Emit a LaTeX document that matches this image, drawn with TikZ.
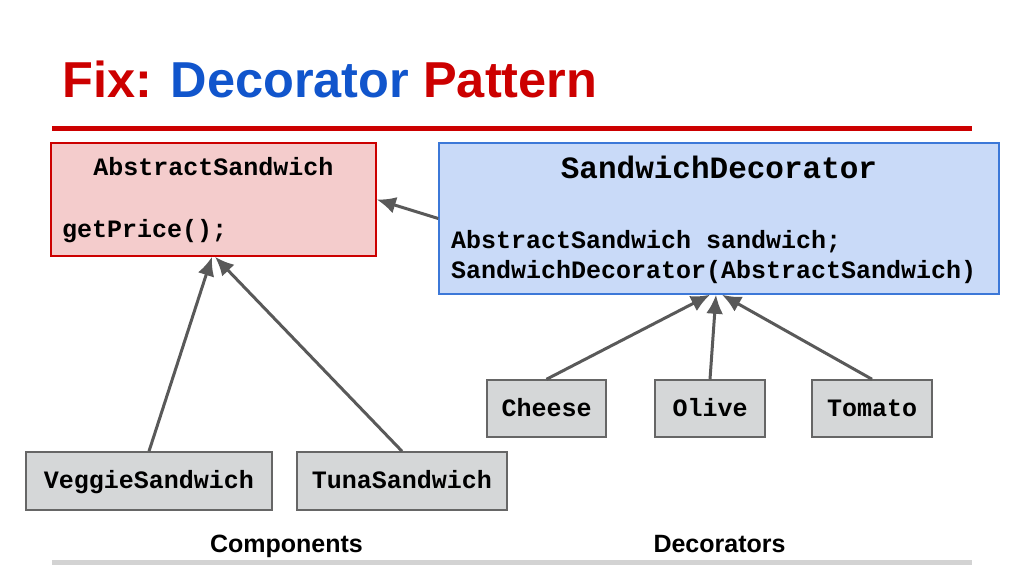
\documentclass[tikz,border=0pt]{standalone}
\usepackage{fontspec}
\setmainfont{Liberation Sans}
\newfontfamily\codefont{Liberation Mono}
\usetikzlibrary{arrows.meta}

\definecolor{titlered}{HTML}{CC0000}
\definecolor{titleblue}{HTML}{1155CC}
\definecolor{abstractfill}{HTML}{F4CCCC}
\definecolor{decofill}{HTML}{C9DAF8}
\definecolor{decoline}{HTML}{3C78D8}
\definecolor{boxfill}{HTML}{D5D7D8}
\definecolor{boxline}{HTML}{666666}
\definecolor{arrowgray}{HTML}{595959}
\definecolor{rulegray}{HTML}{D3D3D3}

\tikzset{
  codetext/.style={inner sep=0pt, font=\codefont\bfseries\fontsize{25}{30}\selectfont},
  classbox/.style={codetext, draw=boxline, fill=boxfill, line width=1.5pt,
    text height=15pt, text depth=0pt},
  inherit/.style={draw=arrowgray, line width=3pt, -{Latex[length=19pt,width=17pt]}},
  caption/.style={inner sep=0pt, anchor=base, font=\bfseries\fontsize{25}{30}\selectfont}
}

\begin{document}
\begin{tikzpicture}[x=1pt,y=-1pt]
    \useasboundingbox (0,0) rectangle (1024,576);
    % title and rules
    \node[anchor=base west, inner sep=0pt, font=\bfseries\fontsize{50.5}{60}\selectfont] (title) at (62,97)
        {\textcolor{titlered}{Fix:} \textcolor{titleblue}{Decorator} \textcolor{titlered}{Pattern}};
    \draw[titlered, line width=5pt] (52,128) -- (972,128);
    \draw[rulegray, line width=5pt] (52,562) -- (972,562);

    % abstract class and decorator
    \node[draw=titlered, fill=abstractfill, line width=1.5pt, minimum width=325pt, minimum height=113pt] (abs) at (213.5,199.5) {};
    \node[draw=decoline, fill=decofill, line width=1.5pt, minimum width=560pt, minimum height=151pt] (deco) at (719,218.5) {};
    \node[codetext, anchor=base] (absname) at (213.5,175) {AbstractSandwich};
    \node[codetext, anchor=base west] (absmethod) at (62,237) {getPrice();};
    \node[codetext, anchor=base, font=\codefont\bfseries\fontsize{31}{36}\selectfont] (deconame) at (719,178) {SandwichDecorator};
    \node[codetext, anchor=base west] (decofield) at (451,248) {AbstractSandwich sandwich;};
    \node[codetext, anchor=base west] (decoctor) at (451,278) {SandwichDecorator(AbstractSandwich)};

    % concrete classes
    \node[classbox, minimum width=246pt, minimum height=58pt] (veggie) at (149,481) {VeggieSandwich};
    \node[classbox, minimum width=210pt, minimum height=58pt] (tuna) at (402,481) {TunaSandwich};
    \node[classbox, minimum width=119pt, minimum height=57pt] (cheese) at (546.5,408.5) {Cheese};
    \node[classbox, minimum width=110pt, minimum height=57pt] (olive) at (710,408.5) {Olive};
    \node[classbox, minimum width=120pt, minimum height=57pt] (tomato) at (872,408.5) {Tomato};

    % inheritance arrows
    \draw[inherit] (deco.west) -- (abs.east);
    \draw[inherit] (veggie.north) -- ([xshift=-1.5pt]abs.south);
    \draw[inherit] (tuna.north) -- ([xshift=1.5pt]abs.south);
    \draw[inherit] (cheese.north) -- ([xshift=-9pt]deco.south);
    \draw[inherit] (olive.north) -- ([xshift=-3pt]deco.south);
    \draw[inherit] (tomato.north) -- ([xshift=3pt]deco.south);

    % captions
    \node[caption] (components) at (286.5,552) {Components};
    \node[caption] (decorators) at (719.5,552) {Decorators};
\end{tikzpicture}
\end{document}
